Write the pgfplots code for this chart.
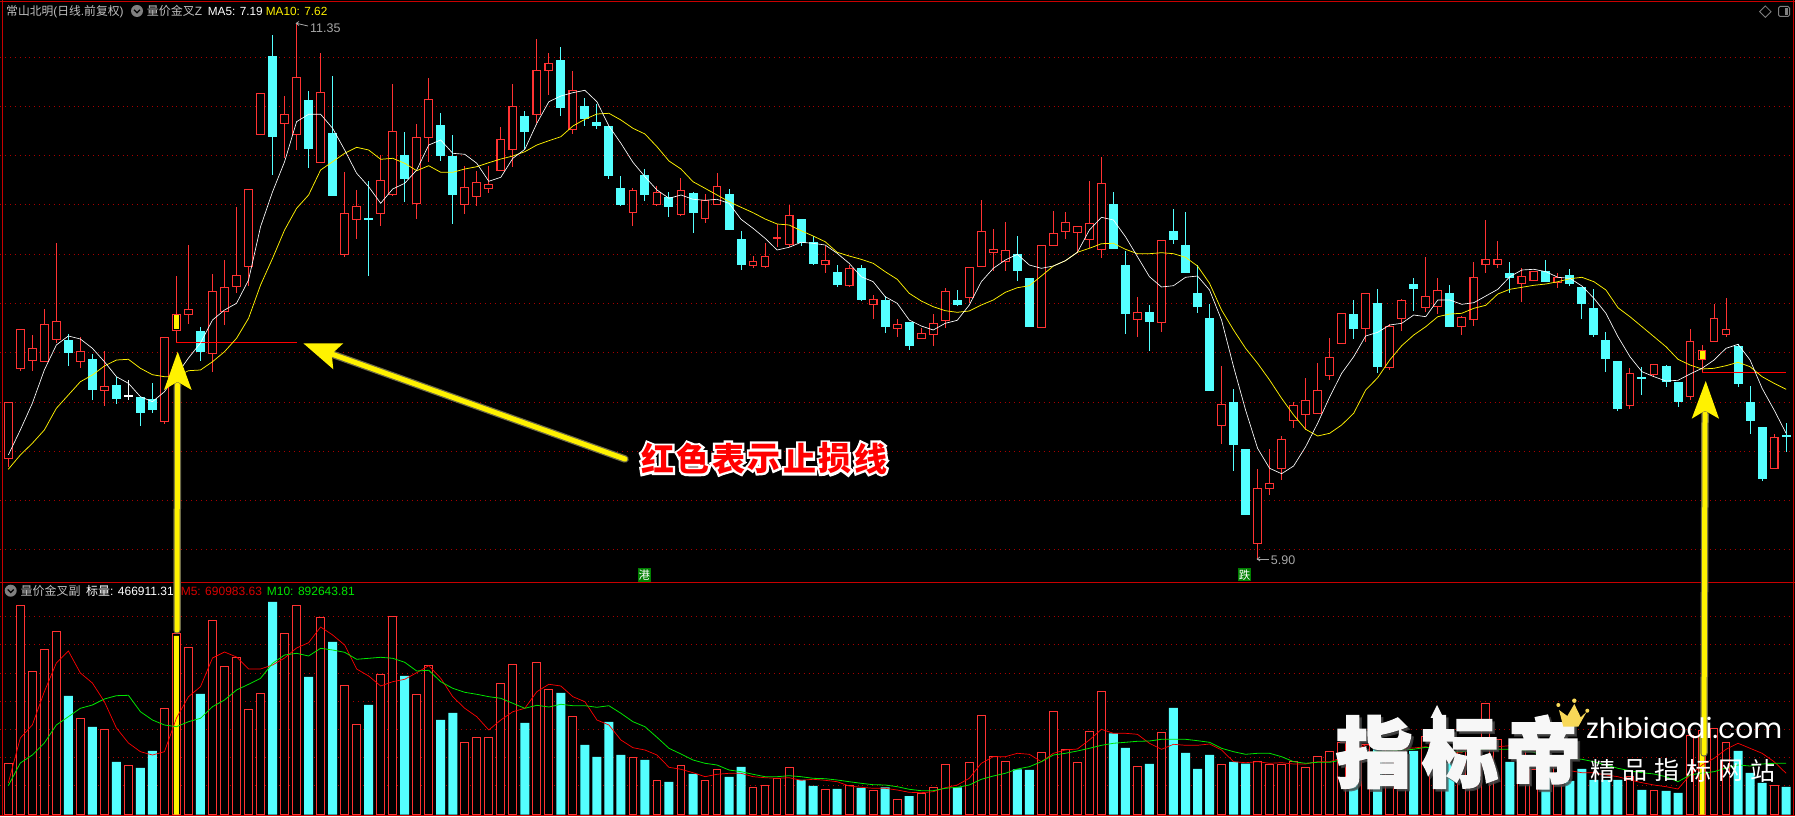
\documentclass[border=0pt]{standalone}
\usepackage{fontspec}
\usepackage{pgfplots}
\usepackage{pgfplotstable}
\pgfplotsset{compat=1.18}
\setmainfont{Liberation Sans}
\newfontfamily\cjk{Noto Sans CJK SC}
\newfontfamily\cjkoutline[BoldFeatures={FakeBold=14}]{Noto Sans CJK SC}
\newfontfamily\cjklogo[BoldFeatures={FakeBold=3}]{Noto Sans CJK SC}
\newfontfamily\logofont{Poppins}
\definecolor{kred}{HTML}{FF3232}
\definecolor{kcyan}{HTML}{54FFFF}
\definecolor{griddark}{HTML}{A80000}
\definecolor{framered}{HTML}{C80000}
\definecolor{goldc}{HTML}{F8D858}
% i top bot hi lo vol (pixel rows of the picture)
\pgfplotstableread{
i top bot hi lo vol
0 402.3 459.3 402.3 466.7 763.3
1 329.3 369.3 329.3 370.7 605.3
2 348.3 361.3 335 370.7 671.3
3 324.3 361.7 309 361.7 649.3
4 321.3 339.7 243 343 631.3
6 351.3 361.7 337.3 367.7 718.3
8 386.3 390.7 351 405.7 729.3
13 337.3 421.7 337.3 423.7 708.3
14 314.3 330.7 276 342.3 633.3
15 309.3 314.7 245 324 647.3
17 291.3 354.3 274.3 372 620.3
18 286.7 312 260 325 666.3
19 275.3 286.7 207 292.7 657.3
20 189.3 266.7 189.3 286 709.3
21 93.3 134.7 93.3 134.7 693.3
23 114.3 123.7 96 157.7 633.3
24 77.3 135.3 23 150 605.3
26 92.3 162.7 53 162.7 617.3
28 213.3 254.7 172 256.7 685.3
29 206.3 220.3 190 238.7 724.3
31 180.3 214.3 155 225.7 674.3
32 131.3 194.7 84 195.7 616.3
34 137.3 204.3 124 218.7 694.3
35 99.3 138.3 78 162 665.3
38 187.3 204.7 166 213.7 742.3
39 182.3 196.7 171 205.7 737.3
40 184.3 188.7 166 192.7 737.3
41 139.3 170.7 127 170.7 683.3
42 106.3 149.7 84 166.7 664.3
44 70.3 114.7 39 123 662.3
45 63.3 70.7 53 94.7 689.3
47 90.3 129.7 71 134 716.3
52 190.3 212.7 188 225.7 758
54 192.3 205 186 206 780.3
56 190.3 215 178 216 765.3
58 200.3 219 194 223 780.3
59 186.3 205 173 205 769.3
62 261.3 265.7 256 268 787.3
63 256.3 267 243 268 785.3
64 237 239 224 247 778.3
65 215.3 245 205 247 767.3
68 260.3 264.7 246 273 789.3
70 268.3 285.7 265 287 786
72 299.3 304.7 295 319 790.3
74 324.3 328.7 319 337 799.3
76 333.3 339.3 328 339.3 793.3
77 323.3 335.3 314 346 787.3
78 291.3 321.3 288 328 764.3
80 267.3 298.3 267.3 303 762.3
81 231.3 266.7 200 266.7 715.3
82 249.3 252.7 229 270.7 756.3
83 250.3 261.7 222 270.7 761.3
86 245.3 327.7 245.3 327.7 752.3
87 233.3 245.7 211 245.7 711.3
88 222.3 231.7 212 239 749.3
89 226.3 232.7 226.3 253.3 762.3
90 223.3 239.7 181 248 731.3
91 183.3 249.7 157 258 691.3
94 312.3 319.7 297 337 766.3
96 240.3 322.7 240.3 332 732.3
101 404.3 425.7 366 444 764.3
104 488.3 543.7 469 560 761.7
105 483.3 488.7 449 495 764.3
106 439.3 469.3 436 480 765
107 405.3 420.7 402 428 761.7
108 400.3 414.7 378 430 767.3
109 390.3 413.7 363 413.7 756.3
110 357.3 375.7 338 380 751.3
111 313.3 343.7 313.3 343.7 742.3
113 293.3 328.7 293.3 341.7 745
115 326 367.7 324 370 740
116 300.3 318.7 299 331 743
118 296.3 307.7 257 312 736.7
119 290.3 306.7 278 314 750
121 317.3 326.7 316 335 738
122 277.3 319.7 262 326 738
123 259.3 264.7 220 273 703.3
124 259.3 264.7 241 268 739.3
126 276.3 283.7 268 302 750
127 271.3 280.7 271.3 280.7 769.3
129 277.3 282.7 273 288 765
135 373.3 405.7 368 409 777
137 364.3 374.7 364.3 377 790.3
140 341.3 396.7 329 400 735.7
141 350.3 359.7 345 372.7 731
142 318.3 341.7 304 341.7 728.3
143 329.3 334.7 298 337 742.3
147 437.3 468.7 434 468.7 785.3
}\redtab
\pgfplotstableread{
i top bot hi lo vol
5 340 352.7 334.3 366 696
7 359 389.7 354 400 727
9 385 399 376.7 404 762
11 397 413 397 425.7 768
12 399 409.7 383.3 412.7 751
16 331 352 327 361 694
22 56 136.7 35 175 602
25 100 148.7 91 167.7 677
27 133 195.7 76 195.7 642
30 218 220 181.3 276 705
33 155 179 132 201.7 676
36 125 155.7 113 161 720
37 156 194.7 135 223.7 713
43 116 131.7 111 149.3 723
46 60 108 47 116 693
48 106 119 98 126 745
49 122 126 104 129 757
50 126 176 126 179 722
51 188 205 176 206 755
53 175 195 169 201 760
55 197 207 192 217 782
57 193 213 192 233 774
60 194 230 189 230 777
61 239 265 231 270 767
66 219 243 219 246 780
67 242 264 236 265 786
69 272 285 265 287 789
71 268 300 265 301 788
73 300 327 296 333 787.3
75 322 346 322 350 796
79 300 305 290 306 787.3
84 254 271 236 281 769.3
85 278 327 278 327 770
92 204 249 192 249 733.3
93 265 314 251 334 748
95 312 322 305 351 764
97 231 240 209 244 708
98 245 273 212 273 753
99 293 307 265 313 769
100 318 391 304 391 755
102 402 445 389 471 762
103 449 515 449 515 763.7
112 314 329 300 339 752
114 303 367 289 373 736.7
117 284 288.7 278 311 751
120 293 327 285 327 763
125 273 278 262 293 762
128 271 282 260 282 767
130 275 284 269 286 781
131 287 304 287 319 769
132 308 335 289 337 780
133 340 359 332 372 780
134 361 409 361 411 780
136 377 379 367 395 790
138 366 382 365 387 791
139 382 402 382 407 793
144 346 384 344 387 751
145 402 421 386 434 773
146 427 479 427 481 783
148 434.5 436.5 423 452 787
}\cyantab
\pgfplotstableread{
i top bot hi lo vol
10 395 396.4 380 400 765.3
}\whitetab
\pgfplotstableread{
i top bot vol
14 315.5 329.5 636
141 351.3 358.7 734
}\yellowtab
% i ma5 ma10 m5 m10
\pgfplotstableread{
i ma5 ma10 m5 m10
0 455 469.3 783 785.7
1 430 455 738 763
2 403.3 443.3 725 755
3 370 430 691.7 743
4 345 408.3 663 725
5 336 395 651 716.7
6 339 381.7 673 708.3
7 348.3 375 683 705
8 361.7 366 701.7 699
9 376.7 360 728 695.7
10 383.3 359.3 743 695.3
11 396.7 368.3 751.7 711.7
12 401.7 374.7 755 720
13 391.7 376.7 751.7 725
14 375 376.7 718 726.7
15 358 370.7 696.7 721.7
16 343 370 686.7 718.3
17 320 361.7 658 706.7
18 310 351.7 652 700
19 303.3 338.3 657 690
20 280 318.3 669 684.3
21 226.7 285 669 678.3
22 191.7 258.3 665 663.3
23 161.7 230 658 655
24 121.7 208.3 648 653.3
25 114.3 195 642.7 656
26 114.3 170 627 648.3
27 128.3 161.7 635 650
28 150 153.3 645 652.3
29 173.3 147.3 669 659.3
30 186.7 150 676 658.3
31 203.3 159.3 686 657.3
32 189 158.3 681.7 658.3
33 183.3 163.3 679.3 662.3
34 170 170.7 672.7 671
35 145 165.7 665.7 670.3
36 140 172.3 678.3 681.7
37 153.3 172.3 696.7 688.3
38 154.3 169 708.3 692.3
39 163.3 166.7 716.7 694.3
40 181.3 162.7 730 696.7
41 177.3 159 720 698.3
42 158.3 156 711.7 703.3
43 149.3 151.7 708.3 708.3
44 123.3 145 691.7 705.3
45 101.7 140.7 684.3 707
46 96 136.7 686 704.3
47 92.7 126 696.7 705.7
48 90.3 119.3 701.7 705.7
49 101.7 114 720 707.3
50 126 113.3 725 705.7
51 143.3 120 740 713.3
52 162.3 128.3 747.7 721.7
53 176.7 134 750 726.7
54 190 146.7 755 737.3
55 198.3 161 767.3 748.3
56 195 169 769.3 754
57 199.3 181.7 772.7 760
58 200.3 188.3 776.7 763.3
59 199.3 195 774.3 765
60 203.3 201.7 773.3 770
61 219.3 207.3 773.3 771.7
62 228.3 212.7 776.7 774.3
63 238.3 219 777.7 776.7
64 250 224 778.3 776.7
65 247.3 225 777.7 775.7
66 242.3 230.7 780.3 776.7
67 243.3 236 779.3 778.3
68 245 241.7 780.3 778.7
69 253.3 252.3 781.7 780
70 263.3 256 786 781.7
71 276.7 259.3 787.3 783.3
72 281.7 263.3 788.3 784.7
73 296.7 271.7 788.3 785
74 303.3 279.3 790 786.7
75 320 293.3 792.3 789.3
76 326 301 792.7 790.7
77 330 306.7 791.7 790.7
78 323.3 310.7 787.7 788.3
79 320.3 312.3 785 787.3
80 305 311 778.3 785
81 281.7 305 763.3 779.3
82 268.3 300 756.7 776
83 260 292.3 756.7 773.3
84 254.3 287.7 753.3 769
85 265 285.7 754.3 766.7
86 268.3 276 761.7 761.7
87 266 266 753.3 755
88 260.7 260.7 750 753.3
89 252.3 252.3 749 751
90 230 248.3 740 748.3
91 217.3 243.7 729.3 745.3
92 220 243.3 733.3 743.3
93 236.7 249.3 733.3 742.3
94 256.7 253.7 734.3 741.3
95 276.7 253.7 743.3 741
96 287 252.7 749.3 739.3
97 285.7 253.7 744.3 739.3
98 277.3 257.3 745.3 739.3
99 276 266 745.3 740.7
100 290 283.3 744 742.3
101 320 310 750 748.3
102 366.7 330 761.7 751.7
103 410 348.3 762.7 754.3
104 448.3 363.3 761.7 753.3
105 468.3 380 763.3 753.3
106 473.7 398.3 762.7 756.7
107 466 415 764 761.7
108 446.7 429.3 764 763.3
109 423.3 436 761.7 762.3
110 397 433.3 761.7 762.3
111 373.3 425 758 760
112 356.7 413.3 750 756.7
113 336 390 745 753
114 332.3 377.7 745 751.7
115 325 360 746.7 751
116 323.3 345.7 748 750
117 315 335 748 749.3
118 316.7 326.7 746.7 747.3
119 300 316.7 750 748.3
120 300 314 752.7 751.7
121 304.3 313.3 752.7 751.7
122 302.7 308.3 740 750
123 296 305.3 738.3 749
124 289.3 294 746.7 749.3
125 276.7 289.3 745.7 749.3
126 270 287.3 748 750
127 269.3 285.3 750 752.3
128 271.7 284 756.7 756.7
129 277.3 281.7 765 758.3
130 278.3 278.7 770.7 758.3
131 286 277.3 772.7 759.3
132 298.3 281.7 772.7 761.7
133 313.3 290 775 765
134 336.7 307.7 776.7 768.3
135 356.7 316.7 780 770.7
136 371.7 326.7 782.7 772.7
137 376.7 336.7 785 774
138 381 346.7 786.7 776.7
139 380.3 359.3 789 781.7
140 374 365 775 775
141 368.3 369 765 773
142 360 368.3 758.3 771.7
143 348.3 365.7 749.3 768
144 344.3 362.3 743.3 765
145 360 366.7 748.3 766
146 388.3 376.7 753.3 764
147 410 383.3 761.7 763.3
148 433.3 389.3 773.3 763.3
}\matab
\newcommand\errplot[4]{%
  \addplot[draw=none, no markers, error bars/.cd, y dir=both, y explicit, error mark=none,
    error bar style={solid, draw=#1, line width=#2, line cap=butt}]
    table[x=i, y expr={(#3)/2}, y error expr={(#4)/2}]}
\begin{document}
\begin{tikzpicture}[x=1pt,y=1pt]
\fill[black] (0,0) rectangle (1795,816);
\useasboundingbox (0,0) rectangle (1795,816);
% price panel
\begin{axis}[at={(0pt,233.5pt)}, anchor=south west, scale only axis, width=1795pt, height=582.5pt,
  xmin=-0.691, xmax=148.74, ymin=0, ymax=582.5, y dir=reverse,
  axis line style={draw=none}, xtick=\empty,
  ytick={57.3,106.7,155.3,204.3,254.3,303.3,352.3,402.2,451.6,500.3,549.3}, yticklabels={},
  tick style={draw=none}, ymajorgrids, major grid style={griddark, line width=0.8pt, dash pattern=on 1pt off 3.9pt}]
\errplot{kred}{1pt}{\thisrow{hi}+\thisrow{lo}}{\thisrow{lo}-\thisrow{hi}} {\redtab};
\errplot{kred}{8.8pt}{\thisrow{top}+\thisrow{bot}}{\thisrow{bot}-\thisrow{top}} {\redtab};
\errplot{black}{6.6pt}{\thisrow{top}+\thisrow{bot}}{max(\thisrow{bot}-\thisrow{top}-2.2,0)} {\redtab};
\errplot{yellow}{5pt}{\thisrow{top}+\thisrow{bot}}{\thisrow{bot}-\thisrow{top}} {\yellowtab};
\errplot{kcyan}{1pt}{\thisrow{hi}+\thisrow{lo}}{\thisrow{lo}-\thisrow{hi}} {\cyantab};
\errplot{kcyan}{9pt}{\thisrow{top}+\thisrow{bot}}{\thisrow{bot}-\thisrow{top}} {\cyantab};
\errplot{white}{1pt}{\thisrow{hi}+\thisrow{lo}}{\thisrow{lo}-\thisrow{hi}} {\whitetab};
\errplot{white}{9pt}{\thisrow{top}+\thisrow{bot}}{\thisrow{bot}-\thisrow{top}} {\whitetab};
\addplot[red, line width=0.9pt] coordinates {(14,342.3) (24,342.3)};
\addplot[red, line width=0.9pt] coordinates {(141,372.3) (148,372.3)};
\addplot[yellow, line width=0.75pt] table[x=i,y=ma10] {\matab};
\addplot[white, line width=0.65pt] table[x=i,y=ma5] {\matab};
\end{axis}
% volume panel
\begin{axis}[at={(0pt,0pt)}, anchor=south west, scale only axis, width=1795pt, height=233.5pt,
  xmin=-0.691, xmax=148.74, ymin=-1.5, ymax=232,
  axis line style={draw=none}, xtick=\empty,
  ytick={198.2,170,141.2,113.2,85.2,57.2,29.2}, yticklabels={},
  tick style={draw=none}, ymajorgrids, major grid style={griddark, line width=0.8pt, dash pattern=on 1pt off 3.9pt}]
\addplot[ybar, /pgf/bar shift=0pt, /pgf/bar width=7.8pt, draw=kred, fill=black, line width=1pt] table[x=i, y expr={814.5-\thisrow{vol}}] {\redtab};
\addplot[ybar, /pgf/bar shift=0pt, /pgf/bar width=7.8pt, draw=kred, fill=black, line width=1pt] table[x=i, y expr={814.5-\thisrow{vol}}] {\whitetab};
\addplot[ybar, /pgf/bar shift=0pt, /pgf/bar width=5pt, draw=none, fill=yellow] table[x=i, y expr={814.5-\thisrow{vol}}] {\yellowtab};
\addplot[ybar, /pgf/bar shift=0pt, /pgf/bar width=9pt, draw=none, fill=kcyan] table[x=i, y expr={814.5-\thisrow{vol}}] {\cyantab};
\addplot[red, line width=0.7pt] table[x=i, y expr={814.5-\thisrow{m5}}] {\matab};
\addplot[green!90!black, line width=0.8pt] table[x=i, y expr={814.5-\thisrow{m10}}] {\matab};
\end{axis}
% frame, headers and annotations, in picture pixels
\begin{scope}[x=1pt,y=-1pt,shift={(0pt,816pt)}]
\draw[framered, line width=1pt] (0,1.3) -- (1795,1.3);
\draw[framered, line width=1pt] (2.7,0) -- (2.7,816);
\draw[framered, line width=1pt] (1793.7,0) -- (1793.7,816);
\draw[framered, line width=1pt] (0,582.4) -- (1795,582.4);
\draw[framered, line width=1pt] (0,815.5) -- (1795,815.5);
% header texts
\fill[gray] (137,11) circle (6);
\draw[black, line width=1.2pt] (134,9.8) -- (137,12.8) -- (140,9.8);
\node[anchor=base west, inner sep=0, text=white!75!black] at (6,16) {\fontsize{11.8}{14}\selectfont{\cjk 常山北明}({\cjk 日线}.{\cjk 前复权})};
\node[anchor=base west, inner sep=0, text=white!75!black] at (146.7,16) {\fontsize{12}{14}\selectfont{\cjk 量价金叉}Z};
\node[anchor=base west, inner sep=0, text=white] at (207.7,16) {\fontsize{11.8}{14}\selectfont MA5: 7.19};
\node[anchor=base west, inner sep=0, text=yellow] at (265.7,16) {\fontsize{11.8}{14}\selectfont MA10: 7.62};
\fill[gray] (10.7,590.7) circle (6);
\draw[black, line width=1.2pt] (7.7,589.5) -- (10.7,592.5) -- (13.7,589.5);
\node[anchor=base west, inner sep=0, text=white!75!black] at (20.3,595.5) {\fontsize{12}{14}\selectfont\cjk 量价金叉副};
\node[anchor=base west, inner sep=0, text=white] at (86,595.5) {\fontsize{12}{14}\selectfont{\cjk 标量}: 466911.31};
\node[anchor=base west, inner sep=0, text=red!85!black] at (180.6,595.5) {\fontsize{12}{14}\selectfont M5: 690983.63};
\node[anchor=base west, inner sep=0, text=green!90!black] at (266.7,595.5) {\fontsize{12}{14}\selectfont M10: 892643.81};
% extreme labels
\draw[white!65!black, line width=0.8pt] (296.3,23.3) -- (308,26);
\draw[white!65!black, line width=0.8pt] (299,21.5) -- (296.3,23.3) -- (299,25.5);
\node[anchor=base west, inner sep=0, text=white!65!black] at (310,32.5) {\fontsize{12.5}{14}\selectfont 11.35};
\draw[white!65!black, line width=0.8pt] (1257.3,559) -- (1269,559);
\draw[white!65!black, line width=0.8pt] (1260,557) -- (1257.3,559) -- (1260,561);
\node[anchor=base west, inner sep=0, text=white!65!black] at (1270.7,565) {\fontsize{12.5}{14}\selectfont 5.90};
% top-right icons
\draw[gray, line width=0.8pt] (1765.3,6) -- (1771,11.7) -- (1765.3,17.4) -- (1759.6,11.7) -- cycle;
\draw[gray, line width=1pt, rounded corners=1.5pt] (1778.5,6.5) rectangle (1789.5,16.5);
\fill[gray] (1784.5,8) rectangle (1788,15);
% green flags
\fill[green!50!black] (638,568) rectangle (650.7,582);
\node[inner sep=0, text=white] at (644.3,575) {\fontsize{11.5}{12}\selectfont\cjk 港};
\fill[green!50!black] (1238,568) rectangle (1251,581.5);
\node[inner sep=0, text=white] at (1244.5,575) {\fontsize{11.5}{12}\selectfont\cjk 跌};
% arrows
\foreach \w/\c in {7.5/{yellow!35!black},5/yellow}{
  \draw[\c, line width=\w pt, line cap=round] (177,630) -- (177.5,385);
  \draw[\c, line width=\w pt, line cap=round] (1704,753) -- (1705,414);
  \draw[\c, line width=\w pt, line cap=round] (625,459) -- (333,354.5);
}
\fill[yellow] (177.7,351.7) -- (191.7,390) -- (177.5,381.7) -- (164,390) -- cycle;
\fill[yellow] (1705.7,381) -- (1719,418.7) -- (1705,410.7) -- (1691.7,418.7) -- cycle;
\fill[yellow] (303.3,343.3) -- (343.3,343.3) -- (331.7,354) -- (333.3,369.3) -- cycle;
% red label with white outline
\foreach \t [count=\k from 0] in {红,色,表,示,止,损,线}{
  \pgfmathsetmacro\cx{657.5+35.5*\k}
  \node[inner sep=0, text=white] at (\cx,458.5) {\fontsize{33}{34}\selectfont\cjkoutline\bfseries \t};
  \node[inner sep=0, text=red] at (\cx,458.5) {\fontsize{33}{34}\selectfont\cjk\bfseries \t};
}
% logo
\foreach \t/\cx in {指/1374,标/1460,帝/1543}{
  \node[inner sep=0, text=black!70, opacity=.7] at (\cx+2.5,754.5) {\fontsize{76}{78}\selectfont\cjklogo\bfseries \t};
  \node[inner sep=0, text=white!97!black] at (\cx,752) {\fontsize{76}{78}\selectfont\cjklogo\bfseries \t};
}
\fill[white!97!black] (1437,705) -- (1443.5,718) -- (1440,718) -- (1440,732) -- (1434,732) -- (1434,718) -- (1430.5,718) -- cycle;
\fill[goldc] (1559,710) -- (1567.3,716) -- (1574.3,704) -- (1580.7,717.3) -- (1586.7,711.7) -- (1578.3,726.7) -- (1563.3,726.7) -- cycle;
\fill[goldc] (1558.3,705) circle (2); \fill[goldc] (1574.3,700.7) circle (2.2); \fill[goldc] (1587.3,710.7) circle (2);
\node[anchor=base west, inner sep=0, text=white] at (1586,739) {\resizebox{196pt}{!}{\fontsize{26}{28}\selectfont\logofont zhibiaodi.com}};
\foreach \t [count=\k from 0] in {精,品,指,标,网,站}{
  \pgfmathsetmacro\cx{1602.5+32*\k}
  \node[inner sep=0, text=white] at (\cx,770.5) {\fontsize{25}{26}\selectfont\cjk \t};
}
\end{scope}
\end{tikzpicture}
\end{document}
